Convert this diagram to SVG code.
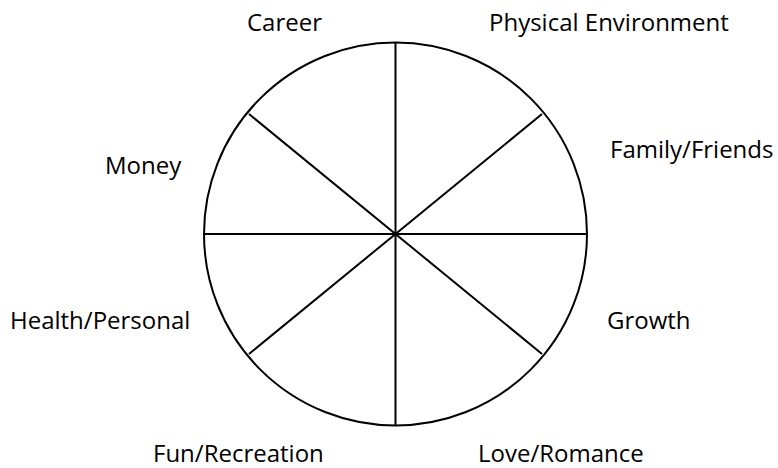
<svg xmlns="http://www.w3.org/2000/svg" width="778" height="468" viewBox="0 0 778 468">
<style>
.l{font-family:"Open Sans","DejaVu Sans",sans-serif;font-size:24px;fill:#000}
.s{stroke:#000;stroke-width:2;fill:none}
</style>
<rect width="778" height="468" fill="#fff"/>
<g id="wheel">
<circle class="s" cx="395.5" cy="234" r="191.5"/>
</g>
<g id="connectors">
<line class="s" x1="395.5" y1="42.5" x2="395.5" y2="425.5"/>
<line class="s" x1="204" y1="234" x2="587" y2="234"/>
<line class="s" x1="249" y1="114" x2="542" y2="354"/>
<line class="s" x1="542" y1="114" x2="249" y2="354"/>
</g>
<g id="career"><text class="l" x="247" y="31">Career</text></g>
<g id="physical"><text class="l" x="489" y="30.5">Physical Environment</text></g>
<g id="money"><text class="l" x="105" y="174">Money</text></g>
<g id="family"><text class="l" x="610" y="158">Family/Friends</text></g>
<g id="health"><text class="l" x="10" y="328.5">Health/Personal</text></g>
<g id="growth"><text class="l" x="607" y="329">Growth</text></g>
<g id="fun"><text class="l" x="153" y="462">Fun/Recreation</text></g>
<g id="love"><text class="l" x="478" y="462">Love/Romance</text></g>
</svg>
